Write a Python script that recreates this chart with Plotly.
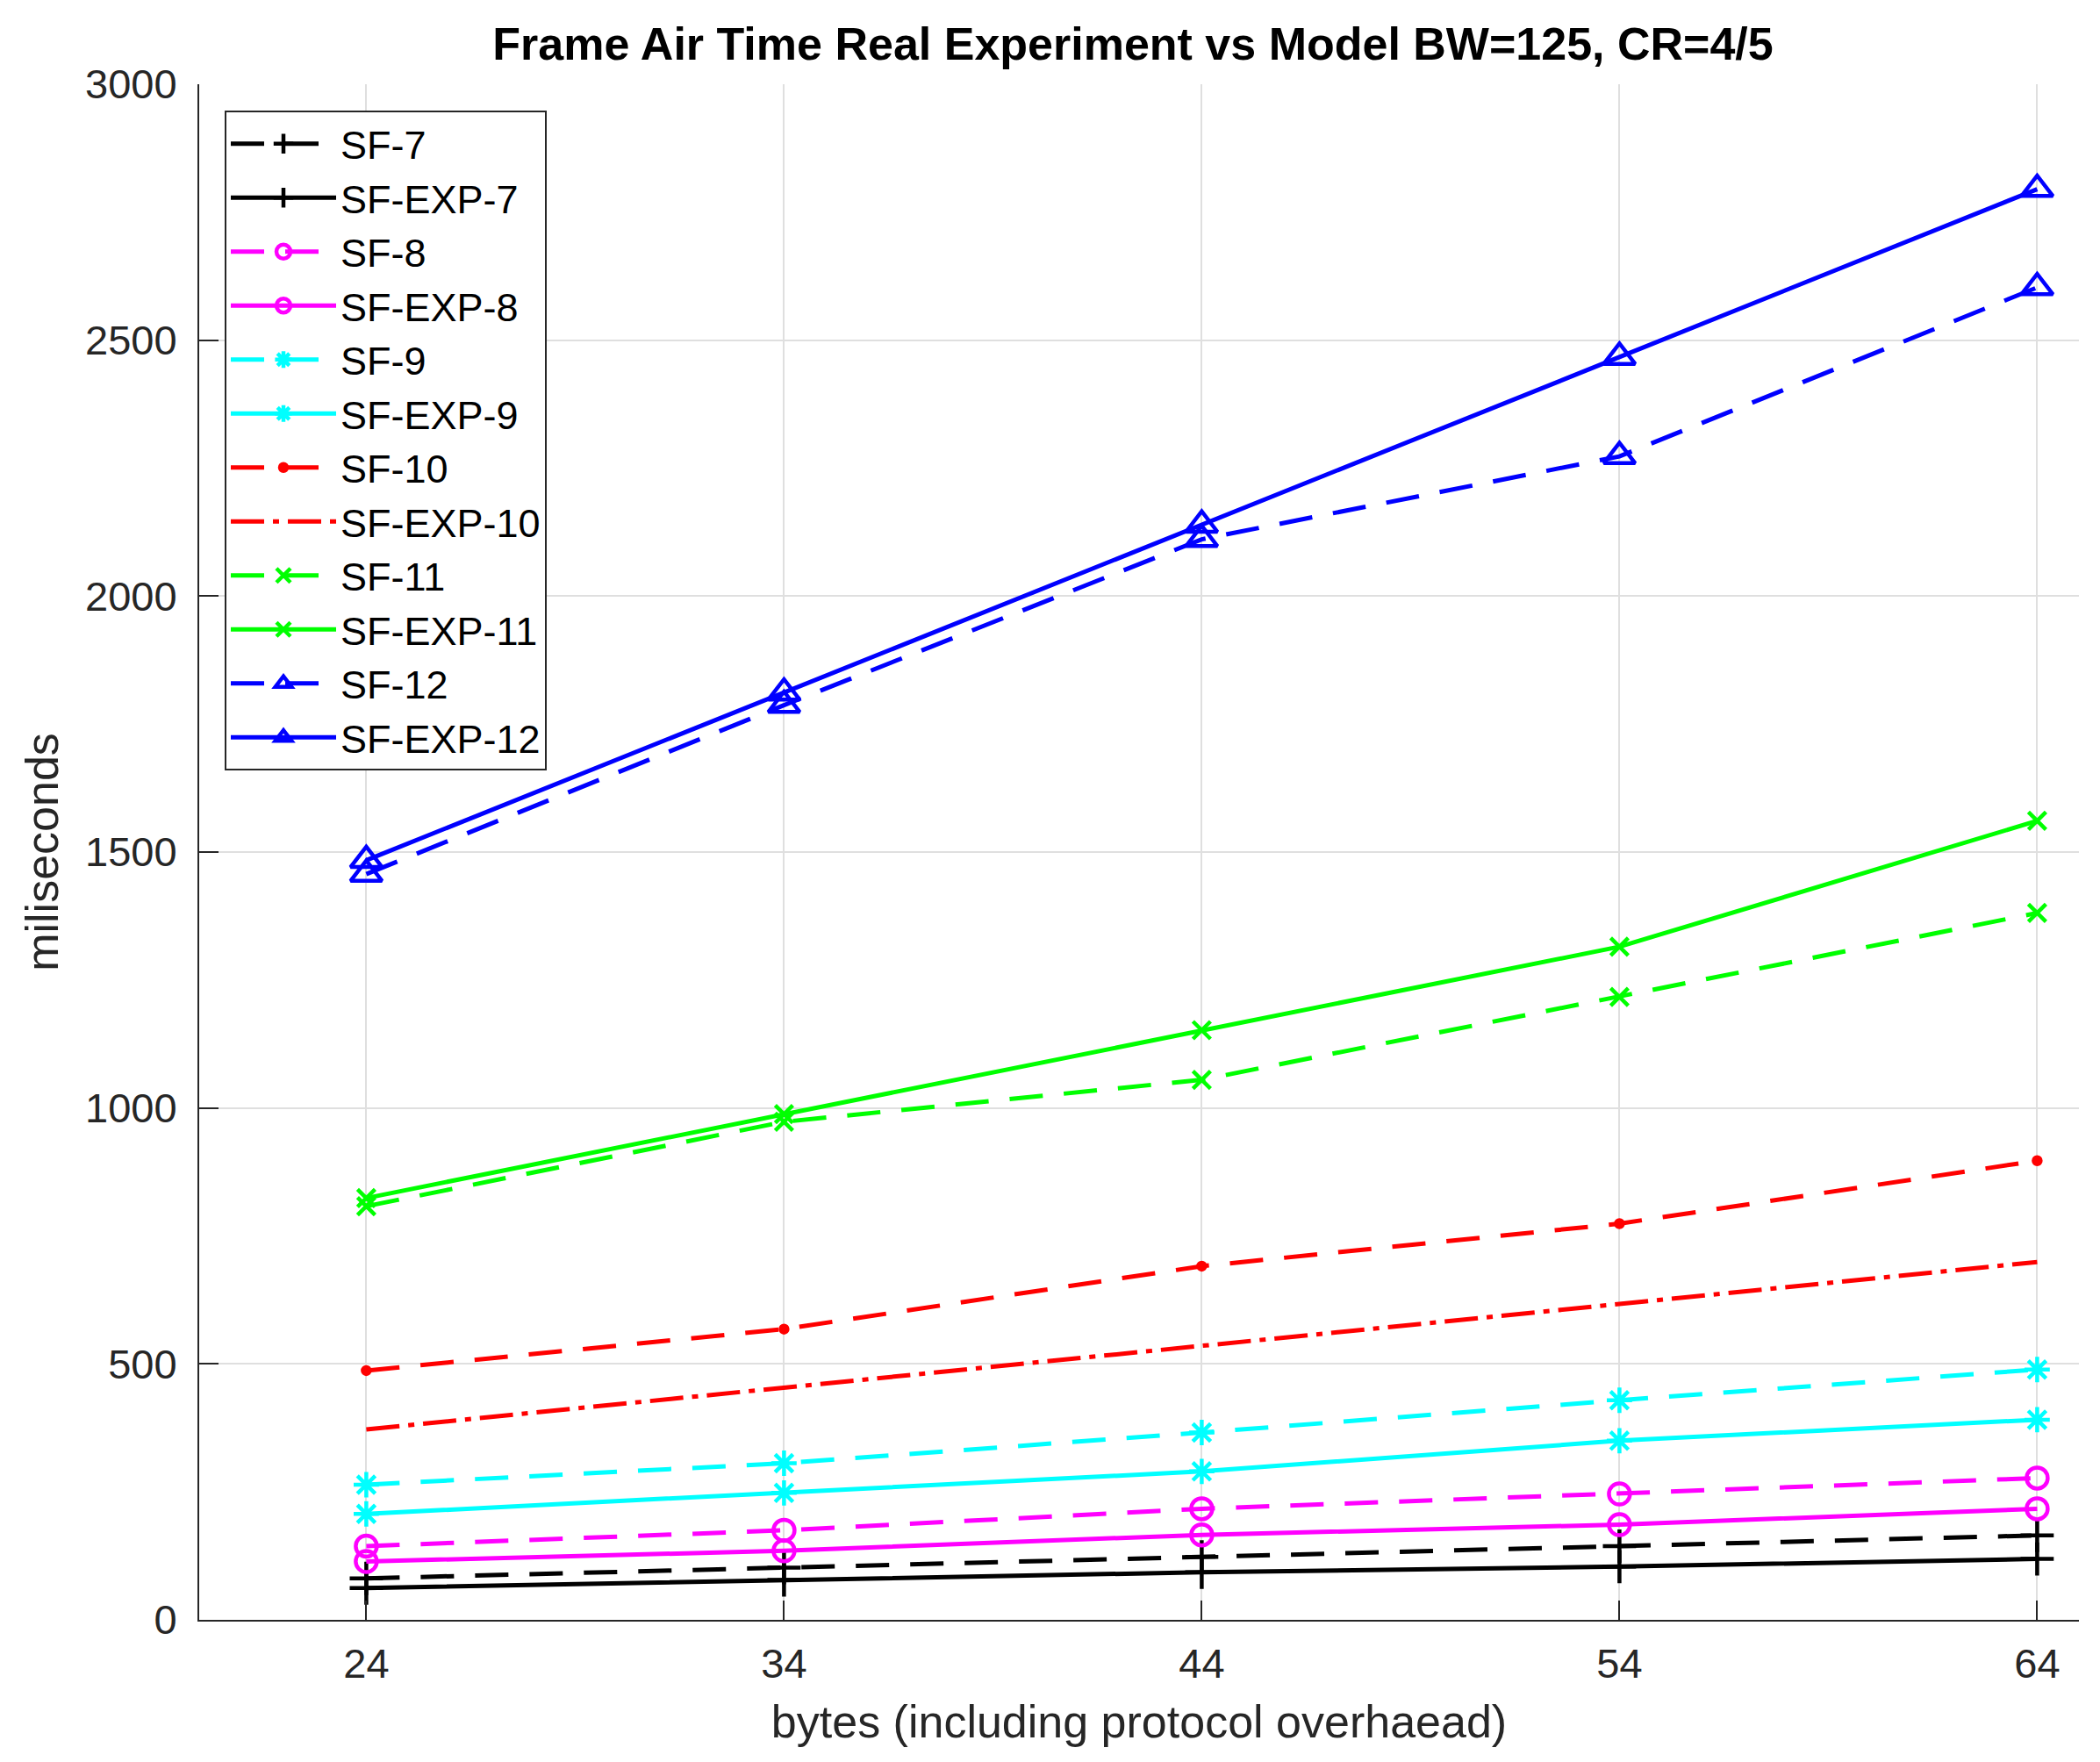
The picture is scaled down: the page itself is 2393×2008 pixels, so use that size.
import plotly.graph_objects as go

# ---- data ----
bytes_x = [24, 34, 44, 54, 64]

sf7_model = [81, 102, 123, 144, 165]
sf7_exp = [62, 78, 93, 104, 119]
sf8_model = [144, 175, 217, 246, 277]
sf8_exp = [114, 135, 166, 186, 217]
sf9_model = [264, 306, 366, 429, 489]
sf9_exp = [207, 248, 290, 350, 391]
sf10_model = [487, 568, 691, 774, 897]
sf10_exp = [372, 453, 535, 617, 699]
sf11_model = [808, 973, 1055, 1217, 1381]
sf11_exp = [824, 988, 1152, 1315, 1561]
sf12_model = [1457, 1787, 2111, 2273, 2603]
sf12_exp = [1484, 1811, 2139, 2467, 2795]

x_ticks = [24, 34, 44, 54, 64]
y_ticks = [0, 500, 1000, 1500, 2000, 2500, 3000]

names = ["SF-7", "SF-EXP-7", "SF-8", "SF-EXP-8", "SF-9", "SF-EXP-9",
         "SF-10", "SF-EXP-10", "SF-11", "SF-EXP-11", "SF-12", "SF-EXP-12"]
series = [sf7_model, sf7_exp, sf8_model, sf8_exp, sf9_model, sf9_exp,
          sf10_model, sf10_exp, sf11_model, sf11_exp, sf12_model, sf12_exp]

# ---- styles ----
DASH = "38px,24px"
DASHDOT = "38px,10px,7px,10px"
colors = ["#000000", "#000000", "#ff00ff", "#ff00ff", "#00ffff", "#00ffff",
          "#ff0000", "#ff0000", "#00ff00", "#00ff00", "#0000ff", "#0000ff"]
dashes = [DASH, "solid", DASH, "solid", DASH, "solid",
          DASH, DASHDOT, DASH, "solid", DASH, "solid"]
symbols = ["cross-thin-open", "cross-thin-open", "circle-open", "circle-open",
           "asterisk-open", "asterisk-open", "circle", None,
           "x-thin-open", "x-thin-open", "triangle-up-open", "triangle-up-open"]
sizes = [27, 27, 24, 24, 24, 24, 8, 0, 20, 20, 31, 31]

fig = go.Figure()
for name, ys, c, d, s, sz in zip(names, series, colors, dashes, symbols, sizes):
    if s is None:
        mode = "lines"
        marker = dict()
    else:
        mode = "lines+markers"
        marker = dict(symbol=s, size=sz, color=c, line=dict(color=c, width=4.5))
    fig.add_trace(go.Scatter(
        x=bytes_x, y=ys, name=name, mode=mode,
        line=dict(color=c, width=5, dash=d),
        marker=marker,
    ))

FONT = "Liberation Sans, Arial, Helvetica, sans-serif"
AX = "#262626"

fig.update_layout(
    width=2393, height=2008,
    margin=dict(l=219, r=32, t=88, b=170),
    paper_bgcolor="white", plot_bgcolor="white",
    font=dict(family=FONT, size=47, color=AX),
    title=dict(
        text="<b>Frame Air Time Real Experiment vs Model BW=125, CR=4/5</b>",
        font=dict(family=FONT, size=52, color="#000000"),
        x=(1283 - 219) / 2142, xref="paper", xanchor="center",
        y=1 - 42 / 2008, yref="container", yanchor="middle",
    ),
    showlegend=True,
    legend=dict(
        x=(248 - 219) / 2142, y=(1838 - 118) / 1750,
        xanchor="left", yanchor="top",
        bgcolor="white", bordercolor=AX, borderwidth=2,
        font=dict(family=FONT, size=45, color="#000000"),
        itemwidth=120, tracegroupgap=0,
    ),
)

fig.update_xaxes(
    range=[20, 65], tickvals=x_ticks, ticktext=[str(v) for v in x_ticks],
    showgrid=True, gridcolor="#dfdfdf", gridwidth=2,
    showline=True, linecolor=AX, linewidth=2, mirror=False,
    ticks="inside", ticklen=22, tickwidth=2, tickcolor=AX,
    tickfont=dict(family=FONT, size=47, color=AX),
    ticklabelstandoff=8,
    zeroline=False,
    title=dict(text="bytes (including protocol overhaead)",
               font=dict(family=FONT, size=52, color=AX), standoff=22),
)
fig.update_yaxes(
    range=[0, 3000], tickvals=y_ticks, ticktext=[str(v) for v in y_ticks],
    showgrid=True, gridcolor="#dfdfdf", gridwidth=2,
    showline=True, linecolor=AX, linewidth=2, mirror=False,
    ticks="inside", ticklen=22, tickwidth=2, tickcolor=AX,
    tickfont=dict(family=FONT, size=47, color=AX),
    ticklabelstandoff=14,
    zeroline=False,
    title=dict(text="miliseconds",
               font=dict(family=FONT, size=52, color=AX), standoff=14),
)

fig.write_html("out.html")
